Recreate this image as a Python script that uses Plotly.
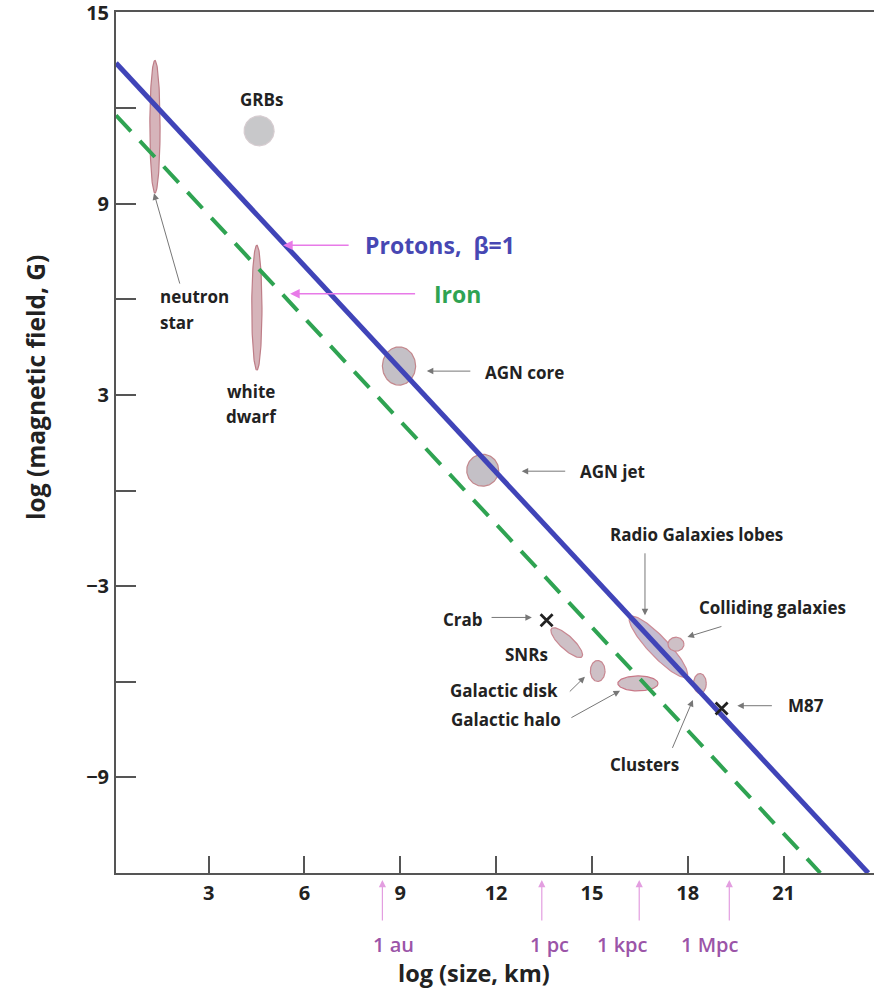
import numpy as np
import plotly.graph_objects as go

# ---------------- data ----------------
x_range = [0.1, 23.83]
y_range = [-12, 15.02]

proton_x = [0.1, 23.65]
proton_y = [13.42, -12.0]
iron_x = [0.1, 22.15]
iron_y = [11.78, -12.0]

# source regions (ellipses): centre, semi-axes, tilt (deg)
ell_names = ["neutron star", "GRBs", "white dwarf", "AGN core", "AGN jet", "SNRs",
             "Galactic disk", "Galactic halo", "Radio Galaxies lobes",
             "Colliding galaxies", "Clusters"]
ell_cx = [1.32, 4.58, 4.51, 8.96, 11.58, 14.21, 15.18, 16.44, 17.08, 17.63, 18.38]
ell_cy = [11.42, 11.29, 5.74, 3.91, 0.64, -4.77, -5.66, -6.05, -4.90, -4.82, -6.05]
ell_a = [0.16, 0.47, 0.16, 0.52, 0.50, 0.65, 0.23, 0.63, 1.29, 0.25, 0.20]
ell_b = [2.08, 0.47, 1.96, 0.60, 0.50, 0.21, 0.33, 0.235, 0.31, 0.22, 0.31]
ell_ang = [0, 0, 0, 0, 0, -43, 0, 0, -46.6, 0, 0]
ell_fill = ["rgb(214,180,186)", "rgb(200,200,202)", "rgb(214,180,186)",
            "rgb(196,192,198)", "rgb(196,192,198)", "rgb(206,192,198)",
            "rgb(206,192,198)", "rgb(206,192,198)", "rgb(196,188,208)",
            "rgb(206,192,198)", "rgb(206,192,198)"]
ell_edge = ["rgb(190,125,135)", "rgb(214,204,208)", "rgb(190,125,135)",
            "rgb(195,135,140)", "rgb(195,135,140)", "rgb(200,135,145)",
            "rgb(200,135,145)", "rgb(200,120,135)", "rgb(205,140,150)",
            "rgb(200,135,145)", "rgb(200,135,145)"]

# point sources
pt_names = ["Crab", "M87"]
pt_x = [13.58, 19.06]
pt_y = [-4.07, -6.84]

# text labels
lab_text = ["GRBs", "neutron", "star", "white", "dwarf", "AGN core", "AGN jet",
            "Radio Galaxies lobes", "Colliding galaxies", "Crab", "SNRs",
            "Galactic disk", "Galactic halo", "Clusters", "M87"]
lab_x = [4.67, 1.42, 1.42, 4.32, 4.35, 11.59, 14.56, 18.26, 20.66, 10.97, 12.94,
         12.25, 12.31, 16.64, 21.70]
lab_y = [12.28, 6.10, 5.29, 3.10, 2.33, 3.72, 0.59, -1.38, -3.67, -4.03, -5.13,
         -6.28, -7.18, -8.58, -6.73]
lab_anchor = ["center", "left", "left", "center", "center", "left", "left", "center",
              "center", "center", "center", "center", "center", "center", "center"]

# gray pointer arrows: tail -> head
arr_tx = [2.11, 11.24, 14.21, 16.66, 19.10, 11.81, 14.26, 14.31, 17.50, 20.68]
arr_ty = [6.45, 3.75, 0.61, -1.92, -4.25, -3.98, -6.35, -7.15, -8.12, -6.75]
arr_hx = [1.29, 9.83, 12.80, 16.66, 17.99, 13.12, 14.78, 15.88, 18.16, 19.55]
arr_hy = [9.33, 3.75, 0.61, -3.91, -4.59, -3.98, -5.84, -6.28, -6.57, -6.75]

# line labels
line_lab = ["Protons,  β=1", "Iron"]
line_lab_x = [7.83, 9.98]
line_lab_y = [7.70, 6.18]
line_lab_col = ["#4747b3", "#2fa352"]
line_arr_tx = [7.43, 9.51]
line_arr_hx = [5.33, 5.55]

# distance scale marks (below the x axis)
scale_labels = ["1 au", "1 pc", "1 kpc", "1 Mpc"]
scale_arrow_x = [8.44, 13.43, 16.48, 19.30]
scale_text_x = [8.78, 13.66, 15.97, 18.68]
scale_arrow_top = -12.22
scale_text_y = -14.25

x_ticks = [3, 6, 9, 12, 15, 18, 21]
y_ticks = [15, 12, 9, 6, 3, 0, -3, -6, -9]
y_ticktext = ["15", "", "9", "", "3", "", "−3", "", "−9"]

x_title = "log (size, km)"
y_title = "log (magnetic field, G)"
x_title_pos = [11.31, -15.15]
y_title_pos = [-0.107, 3.25]


def ypaper(v):
    return (v - y_range[0]) / (y_range[1] - y_range[0])


def xpaper(v):
    return (v - x_range[0]) / (x_range[1] - x_range[0])


# ---------------- figure ----------------
fig = go.Figure()

t = np.linspace(0, 2 * np.pi, 120)
for i in range(len(ell_names)):
    th = np.deg2rad(ell_ang[i])
    ex = ell_a[i] * np.cos(t)
    ey = ell_b[i] * np.sin(t)
    xs = ell_cx[i] + ex * np.cos(th) - ey * np.sin(th)
    ys = ell_cy[i] + ex * np.sin(th) + ey * np.cos(th)
    fig.add_trace(go.Scatter(x=xs, y=ys, mode="lines", fill="toself",
                             fillcolor=ell_fill[i],
                             line=dict(color=ell_edge[i], width=1.2),
                             name=ell_names[i], hoverinfo="name", showlegend=False))

fig.add_trace(go.Scatter(x=iron_x, y=iron_y, mode="lines", name="Iron",
                         line=dict(color="#2fa352", width=4, dash="22px,13px"),
                         showlegend=False))
fig.add_trace(go.Scatter(x=proton_x, y=proton_y, mode="lines", name="Protons",
                         line=dict(color="#4044b8", width=5), showlegend=False))
fig.add_trace(go.Scatter(x=pt_x, y=pt_y, mode="markers", name="point sources",
                         marker=dict(symbol="x-thin", size=12,
                                     line=dict(color="#222", width=2.8)),
                         text=pt_names, showlegend=False))

ann = []
for i in range(len(lab_text)):
    ann.append(dict(x=lab_x[i], y=lab_y[i], xref="x", yref="y",
                    text="<b>" + lab_text[i] + "</b>",
                    showarrow=False, xanchor=lab_anchor[i], yanchor="middle",
                    font=dict(size=17, color="#222", family="Open Sans")))
for i in range(len(arr_tx)):
    ann.append(dict(x=arr_hx[i], y=arr_hy[i], ax=arr_tx[i], ay=arr_ty[i],
                    xref="x", yref="y", axref="x", ayref="y", text="",
                    showarrow=True, arrowhead=2, arrowsize=1.3, arrowwidth=1,
                    arrowcolor="#777"))
for i in range(len(line_lab)):
    ann.append(dict(x=line_lab_x[i], y=line_lab_y[i], xref="x", yref="y",
                    text="<b>" + line_lab[i] + "</b>", showarrow=False,
                    xanchor="left", yanchor="middle",
                    font=dict(size=23, color=line_lab_col[i], family="Open Sans")))
    ann.append(dict(x=line_arr_hx[i], y=line_lab_y[i], ax=line_arr_tx[i],
                    ay=line_lab_y[i], xref="x", yref="y", axref="x", ayref="y",
                    text="", showarrow=True, arrowhead=2, arrowsize=1.2,
                    arrowwidth=1.6, arrowcolor="#e87ae8"))
for i in range(len(scale_labels)):
    ann.append(dict(x=scale_arrow_x[i], y=ypaper(scale_arrow_top), xref="x",
                    yref="paper", ax=0, ay=42, text="",
                    showarrow=True, arrowhead=2, arrowsize=1.2, arrowwidth=1.2,
                    arrowcolor="#e39ee0"))
    ann.append(dict(x=scale_text_x[i], y=ypaper(scale_text_y), xref="x",
                    yref="paper", text=scale_labels[i], showarrow=False,
                    xanchor="center", yanchor="middle",
                    font=dict(size=20, color="#9b55a8", family="Open Sans",
                              weight=600)))

# axis titles
ann.append(dict(x=xpaper(x_title_pos[0]), y=ypaper(x_title_pos[1]), xref="paper",
                yref="paper", text="<b>" + x_title + "</b>", showarrow=False,
                xanchor="center", yanchor="middle",
                font=dict(size=23.5, color="#222", family="Open Sans")))
ann.append(dict(x=y_title_pos[0], y=ypaper(y_title_pos[1]), xref="paper",
                yref="paper", text="<b>" + y_title + "</b>", showarrow=False,
                textangle=-90, xanchor="center", yanchor="middle",
                font=dict(size=24.5, color="#222", family="Open Sans")))

fig.update_layout(
    width=874, height=990,
    margin=dict(l=116, r=0, t=12, b=117),
    plot_bgcolor="white", paper_bgcolor="white",
    font=dict(family="Open Sans", color="#222"),
    annotations=ann,
    xaxis=dict(range=x_range, tickmode="array", tickvals=x_ticks,
               ticktext=["<b>%d</b>" % v for v in x_ticks],
               ticks="inside", ticklen=17, tickwidth=1.6, tickcolor="#555",
               showline=True, linecolor="#555", linewidth=2, mirror=True,
               showgrid=False, zeroline=False, automargin=False,
               ticklabeloverflow="allow",
               tickfont=dict(size=20, color="#222"), ticklabelstandoff=1),
    yaxis=dict(range=y_range, tickmode="array", tickvals=y_ticks,
               ticktext=["<b>%s</b>" % s if s else "" for s in y_ticktext],
               ticks="inside", ticklen=20, tickwidth=1.6, tickcolor="#555",
               showline=True, linecolor="#555", linewidth=2,
               showgrid=False, zeroline=False, automargin=False,
               ticklabeloverflow="allow",
               tickfont=dict(size=20, color="#222"), ticklabelstandoff=1),
)

fig.write_html("out.html", config={"displayModeBar": False},
               post_script="document.body.style.margin='0';"
                           "document.body.style.overflow='hidden';")
